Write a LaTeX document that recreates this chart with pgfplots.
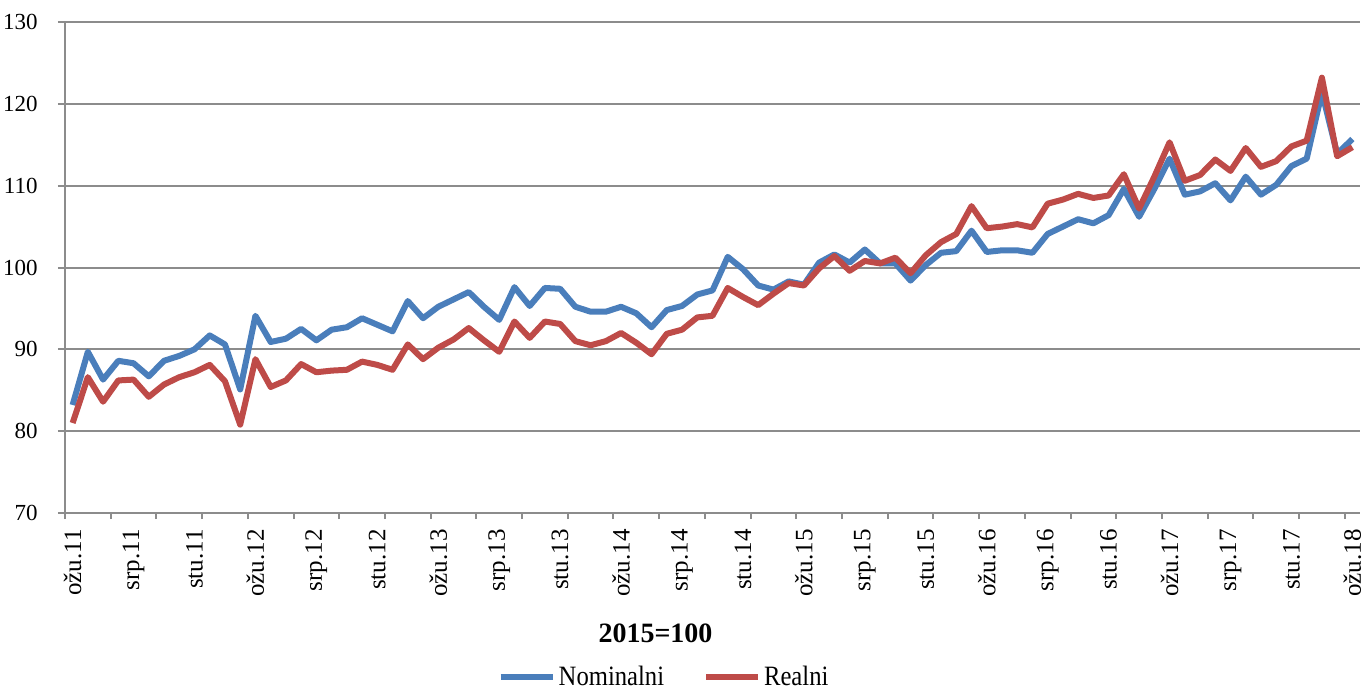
\documentclass[border=0pt]{standalone}
\usepackage{graphicx}
\usepackage{fontspec}
\setmainfont{Liberation Serif}
\usepackage{pgfplots}
\pgfplotsset{compat=1.18}
\definecolor{nomblue}{HTML}{4A7EBB}
\definecolor{realred}{HTML}{BE4B48}
\definecolor{gridgray}{HTML}{8C8C8C}
\newcommand\xl[1]{{\fontsize{12.5bp}{14bp}\selectfont #1}}
\newcommand\yl[1]{{\fontsize{11.5bp}{13bp}\selectfont #1}}
\begin{document}
\begin{tikzpicture}
\path[use as bounding box] (-32.5bp,-91bp) rectangle (652.5bp,256.5bp);
\begin{axis}[
  at={(0,0)}, anchor=south west,
  scale only axis,
  width=647.5bp, height=245.5bp,
  xmin=-0.5, xmax=84.5,
  ymin=70, ymax=130,
  ytick={70,80,...,130},
  yticklabels={\yl{70},\yl{80},\yl{90},\yl{100},\yl{110},\yl{120},\yl{130}},
  xtick={0,4,...,84},
  xticklabels={\xl{o\v{z}u.11},\xl{srp.11},\xl{stu.11},\xl{o\v{z}u.12},\xl{srp.12},\xl{stu.12},\xl{o\v{z}u.13},\xl{srp.13},\xl{stu.13},\xl{o\v{z}u.14},\xl{srp.14},\xl{stu.14},\xl{o\v{z}u.15},\xl{srp.15},\xl{stu.15},\xl{o\v{z}u.16},\xl{srp.16},\xl{stu.16},\xl{o\v{z}u.17},\xl{srp.17},\xl{stu.17},\xl{o\v{z}u.18}},
  minor xtick={-0.5,2.5,...,83.5},
  axis lines*=left,
  axis line style={-, gridgray, line width=1bp},
  tick align=outside,
  major tick length=3.5bp,
  minor tick length=3bp,
  major x tick style={draw=none},
  minor x tick style={gridgray, line width=1bp},
  major y tick style={gridgray, line width=1bp},
  ymajorgrids,
  grid style={gridgray, line width=1bp},
  yticklabel style={anchor=east, inner sep=0pt, xshift=-10bp},
  xticklabel style={yshift=-4.5bp, rotate=90, anchor=east, inner sep=0pt},
  legend style={at={(0.463,-0.335)}, anchor=center, draw=none, fill=none,
    legend columns=2, font=\fontsize{14bp}{16bp}\selectfont,
    /tikz/every even column/.append style={column sep=18bp},
    nodes={inner sep=1.5bp}},
  legend image code/.code={\draw[#1] (0bp,0bp) -- (26bp,0bp);},
  clip=false,
]
\addplot[nomblue, line width=3bp, line join=round] table {
0 83.2
1 89.7
2 86.3
3 88.6
4 88.3
5 86.7
6 88.6
7 89.2
8 90.0
9 91.7
10 90.6
11 85.1
12 94.1
13 90.9
14 91.3
15 92.5
16 91.1
17 92.4
18 92.7
19 93.8
20 93.0
21 92.2
22 95.9
23 93.8
24 95.2
25 96.1
26 97.0
27 95.2
28 93.6
29 97.6
30 95.3
31 97.5
32 97.4
33 95.2
34 94.6
35 94.6
36 95.2
37 94.4
38 92.7
39 94.8
40 95.3
41 96.7
42 97.2
43 101.3
44 99.8
45 97.8
46 97.3
47 98.3
48 97.9
49 100.6
50 101.6
51 100.6
52 102.2
53 100.5
54 100.5
55 98.4
56 100.3
57 101.8
58 102.0
59 104.5
60 101.9
61 102.1
62 102.1
63 101.8
64 104.1
65 105.0
66 105.9
67 105.4
68 106.4
69 109.6
70 106.2
71 109.6
72 113.3
73 108.9
74 109.3
75 110.3
76 108.2
77 111.1
78 108.9
79 110.1
80 112.4
81 113.3
82 121.4
83 113.9
84 115.7
};
\addlegendentry{\scalebox{0.88}[1]{Nominalni}}
\addplot[realred, line width=3bp, line join=round] table {
0 81.0
1 86.6
2 83.6
3 86.2
4 86.3
5 84.2
6 85.7
7 86.6
8 87.2
9 88.1
10 86.1
11 80.8
12 88.8
13 85.4
14 86.2
15 88.2
16 87.2
17 87.4
18 87.5
19 88.5
20 88.1
21 87.5
22 90.6
23 88.8
24 90.2
25 91.2
26 92.6
27 91.1
28 89.7
29 93.4
30 91.4
31 93.4
32 93.1
33 91.0
34 90.5
35 91.0
36 92.0
37 90.8
38 89.4
39 91.9
40 92.4
41 93.9
42 94.1
43 97.5
44 96.4
45 95.4
46 96.8
47 98.1
48 97.8
49 99.9
50 101.4
51 99.6
52 100.8
53 100.5
54 101.2
55 99.3
56 101.5
57 103.1
58 104.1
59 107.5
60 104.8
61 105.0
62 105.3
63 104.9
64 107.8
65 108.3
66 109.0
67 108.5
68 108.8
69 111.4
70 107.2
71 111.1
72 115.3
73 110.6
74 111.3
75 113.2
76 111.8
77 114.6
78 112.3
79 113.0
80 114.8
81 115.5
82 123.2
83 113.6
84 114.7
};
\addlegendentry{\scalebox{0.88}[1]{Realni}}
\node[font=\bfseries\fontsize{14bp}{16bp}\selectfont] at (rel axis cs:0.456,-0.246) {2015=100};
\end{axis}
\end{tikzpicture}
\end{document}
